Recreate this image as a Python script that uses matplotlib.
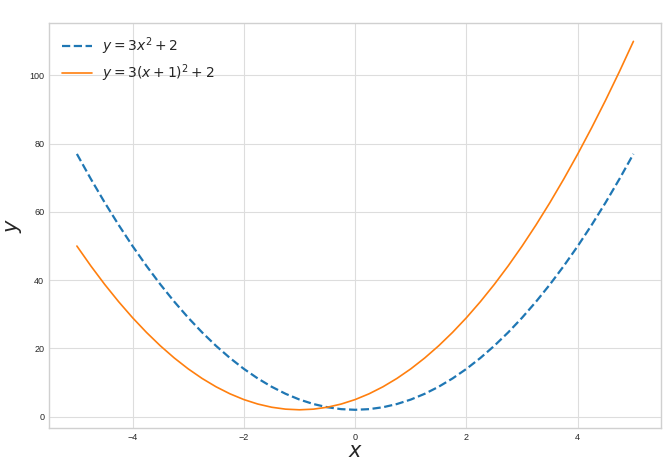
import matplotlib
matplotlib.use("Agg")
import matplotlib.pyplot as plt

# valores
x = [-5, -4.75, -4.5, -4.25, -4, -3.75, -3.5, -3.25, -3, -2.75, -2.5, -2.25, -2, -1.75, -1.5,
     -1.25, -1, -0.75, -0.5, -0.25, 0, 0.25, 0.5, 0.75, 1, 1.25, 1.5, 1.75, 2, 2.25, 2.5,
     2.75, 3, 3.25, 3.5, 3.75, 4, 4.25, 4.5, 4.75, 5]
y1 = [77, 69.69, 62.75, 56.19, 50, 44.19, 38.75, 33.69, 29, 24.69, 20.75, 17.19, 14, 11.19, 8.75,
      6.69, 5, 3.69, 2.75, 2.19, 2, 2.19, 2.75, 3.69, 5, 6.69, 8.75, 11.19, 14, 17.19, 20.75,
      24.69, 29, 33.69, 38.75, 44.19, 50, 56.19, 62.75, 69.69, 77]
y2 = [50, 44.19, 38.75, 33.69, 29, 24.69, 20.75, 17.19, 14, 11.19, 8.75, 6.69, 5, 3.69, 2.75,
      2.19, 2, 2.19, 2.75, 3.69, 5, 6.69, 8.75, 11.19, 14, 17.19, 20.75, 24.69, 29, 33.69, 38.75,
      44.19, 50, 56.19, 62.75, 69.69, 77, 84.69, 92.75, 101.19, 110]

plt.style.use('seaborn-v0_8-whitegrid')
fig, ax = plt.subplots(figsize=(6.72, 4.68), dpi=100)
fig.subplots_adjust(left=0.073, right=0.984, top=0.951, bottom=0.085)

ax.plot(x, y1, '--', color='#1f77b4', lw=1.6, label=r'$y = 3x^2 + 2$')
ax.plot(x, y2, '-', color='#ff7f0e', lw=1.2, label=r'$y = 3(x+1)^2 + 2$')

ax.set_xlabel(r'$x$', fontsize=15, labelpad=0)
ax.set_ylabel(r'$y$', fontsize=15, labelpad=4)
ax.tick_params(labelsize=6.5)
ax.grid(color='#dddddd')
for s in ax.spines.values():
    s.set_visible(True)
    s.set_color('#d0d0d0')
    s.set_linewidth(1.0)
ax.legend(loc='upper left', fontsize=10, handlelength=2.2, handletextpad=0.7,
          labelspacing=0.4, frameon=False)

fig.savefig('out.png')
